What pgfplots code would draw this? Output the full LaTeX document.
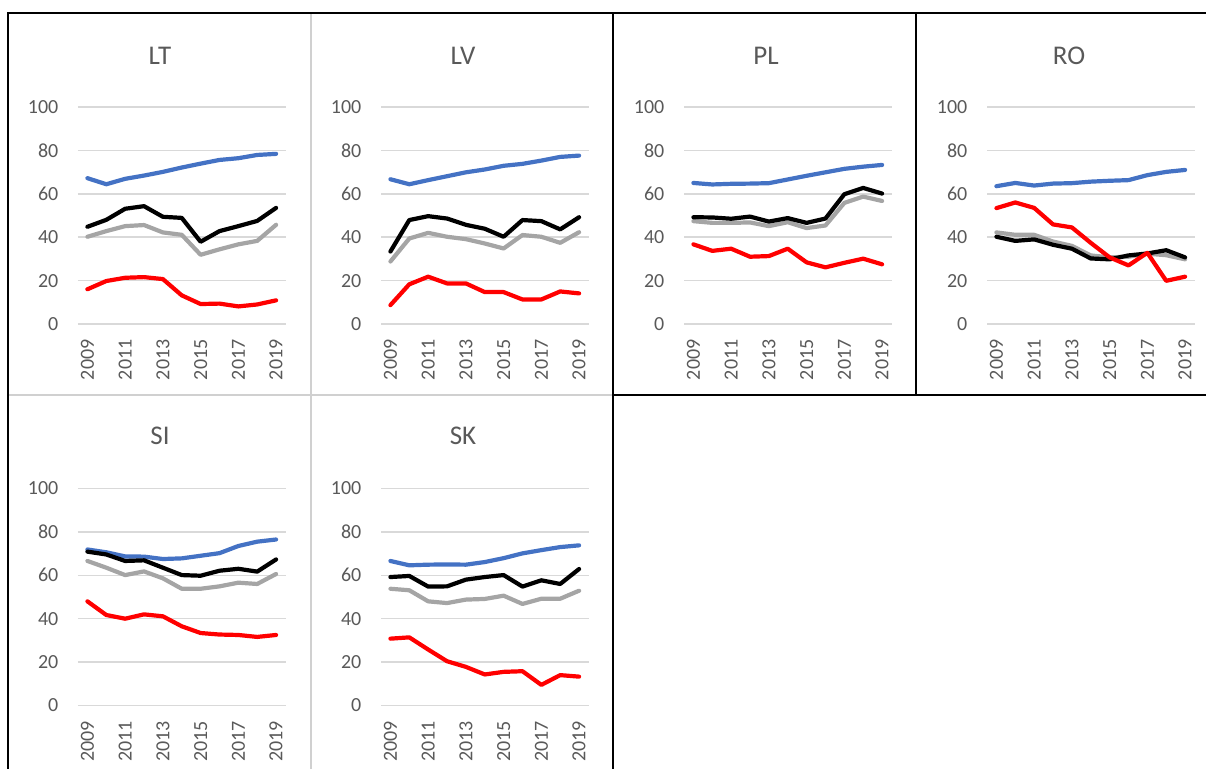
\documentclass[border=0pt]{standalone}
\usepackage{fontspec}
\setmainfont{Carlito}
\usepackage{pgfplots}
\usepackage{pgfplotstable}
\pgfplotsset{compat=1.18}

\definecolor{labelgray}{HTML}{595959}
\definecolor{gridgray}{HTML}{D9D9D9}
\definecolor{cellgray}{HTML}{D0D0D0}
\definecolor{sblue}{HTML}{4472C4}
\definecolor{sgray}{HTML}{A5A5A5}
\definecolor{sred}{HTML}{FF0000}

% year, series A (blue), B (grey), C (black), D (red)
\pgfplotstableread{
year A    B    C    D
2009 67.2 40.2 44.8 16.0
2010 64.4 42.8 48.0 19.8
2011 66.9 45.1 53.1 21.3
2012 68.4 45.6 54.3 21.6
2013 70.1 42.2 49.4 20.7
2014 72.1 41.1 48.9 13.2
2015 73.9 31.9 37.9 9.2
2016 75.6 34.4 42.8 9.4
2017 76.4 36.7 45.1 8.1
2018 77.9 38.3 47.5 9.0
2019 78.4 45.7 53.5 10.9
}\dataLT
\pgfplotstableread{
year A    B    C    D
2009 66.7 28.8 33.4 8.7
2010 64.4 39.4 47.9 18.3
2011 66.3 42.0 49.7 21.8
2012 68.1 40.2 48.6 18.7
2013 69.9 39.1 45.7 18.7
2014 71.2 37.1 43.9 14.7
2015 72.9 34.8 40.2 14.7
2016 73.8 41.0 47.9 11.3
2017 75.3 40.2 47.4 11.3
2018 77.0 37.4 43.6 15.0
2019 77.6 42.3 49.2 14.1
}\dataLV
\pgfplotstableread{
year A    B    C    D
2009 65.0 47.4 49.2 36.7
2010 64.3 46.6 49.1 33.7
2011 64.6 46.6 48.5 34.7
2012 64.7 46.8 49.5 31.0
2013 64.9 45.1 47.2 31.3
2014 66.6 46.9 48.8 34.7
2015 68.3 44.2 46.6 28.4
2016 69.9 45.4 48.6 26.1
2017 71.5 55.8 59.8 28.2
2018 72.5 58.7 62.7 30.1
2019 73.3 56.7 60.1 27.5
}\dataPL
\pgfplotstableread{
year A    B    C    D
2009 63.5 42.2 40.2 53.4
2010 65.0 41.1 38.3 56.0
2011 63.8 41.1 39.0 53.5
2012 64.7 38.0 36.5 45.9
2013 64.9 36.0 34.7 44.5
2014 65.6 31.6 30.2 37.4
2015 66.0 30.7 29.8 30.7
2016 66.3 31.0 31.6 27.0
2017 68.6 32.4 32.5 32.8
2018 70.1 31.7 34.0 19.9
2019 71.0 29.8 30.7 21.8
}\dataRO
\pgfplotstableread{
year A    B    C    D
2009 71.9 66.6 70.9 48.0
2010 70.6 63.5 69.6 41.7
2011 68.7 60.1 66.6 40.0
2012 68.6 61.8 66.9 42.0
2013 67.5 58.6 63.5 41.1
2014 67.8 53.8 60.1 36.5
2015 69.0 53.8 59.8 33.4
2016 70.2 54.9 62.1 32.7
2017 73.5 56.6 63.0 32.5
2018 75.5 56.0 61.7 31.6
2019 76.5 60.6 67.3 32.5
}\dataSI
\pgfplotstableread{
year A    B    C    D
2009 66.6 53.8 59.2 30.8
2010 64.6 53.1 59.7 31.4
2011 64.9 48.0 54.8 25.8
2012 65.0 47.2 54.9 20.4
2013 64.9 48.8 58.0 17.8
2014 66.1 49.1 59.2 14.3
2015 67.9 50.6 60.1 15.5
2016 70.1 46.8 54.8 15.8
2017 71.6 49.2 57.7 9.5
2018 73.0 49.2 56.0 14.0
2019 73.8 52.9 62.9 13.3
}\dataSK

\pgfplotsset{
  panel/.style={
    anchor=south west, scale only axis,
    width=103.75pt, height=108.5pt,
    xmin=2008.5, xmax=2019.5, ymin=0, ymax=100,
    xtick={2009,2011,2013,2015,2017,2019},
    xticklabels={2009,2011,2013,2015,2017,2019},
    ytick={0,20,40,60,80,100},
    ymajorgrids, grid style={draw=gridgray, line width=0.75pt},
    axis line style={draw=none}, major tick length=0pt,
    tick label style={font=\fontsize{10}{12}\selectfont, text=labelgray},
    xticklabel style={rotate=90, anchor=east},
    xticklabel shift=4.2pt, yticklabel shift=6.3pt,
    /pgf/number format/assume math mode=true,
    clip=false,
  },
  ser/.style={line width=2.1pt, line cap=round, line join=round, mark=none},
}

\begin{document}
\begin{tikzpicture}
\useasboundingbox (0,0) rectangle (603pt,-384.5pt);
% table rules
\draw[cellgray, line width=0.6pt] (155.5pt,-6.5pt) -- (155.5pt,-384.5pt);
\draw[cellgray, line width=0.6pt] (4pt,-197.5pt) -- (306.5pt,-197.5pt);
\draw[black, line width=0.6pt] (4pt,-384.5pt) -- (4pt,-6.5pt) -- (603pt,-6.5pt);
\draw[black, line width=0.6pt] (306.5pt,-6.5pt) -- (306.5pt,-384.5pt);
\draw[black, line width=0.6pt] (458pt,-6.5pt) -- (458pt,-197.5pt);
\draw[black, line width=0.6pt] (306.5pt,-197.5pt) -- (603pt,-197.5pt);

\begin{axis}[panel, at={(39pt,-162pt)}]
  \addplot[ser, sblue] table[x=year, y=A] {\dataLT};
  \addplot[ser, sgray] table[x=year, y=B] {\dataLT};
  \addplot[ser, black] table[x=year, y=C] {\dataLT};
  \addplot[ser, sred]  table[x=year, y=D] {\dataLT};
\end{axis}
\begin{axis}[panel, at={(190.5pt,-162pt)}]
  \addplot[ser, sblue] table[x=year, y=A] {\dataLV};
  \addplot[ser, sgray] table[x=year, y=B] {\dataLV};
  \addplot[ser, black] table[x=year, y=C] {\dataLV};
  \addplot[ser, sred]  table[x=year, y=D] {\dataLV};
\end{axis}
\begin{axis}[panel, at={(342pt,-162pt)}]
  \addplot[ser, sblue] table[x=year, y=A] {\dataPL};
  \addplot[ser, sgray] table[x=year, y=B] {\dataPL};
  \addplot[ser, black] table[x=year, y=C] {\dataPL};
  \addplot[ser, sred]  table[x=year, y=D] {\dataPL};
\end{axis}
\begin{axis}[panel, at={(493.5pt,-162pt)}]
  \addplot[ser, sblue] table[x=year, y=A] {\dataRO};
  \addplot[ser, sgray] table[x=year, y=B] {\dataRO};
  \addplot[ser, black] table[x=year, y=C] {\dataRO};
  \addplot[ser, sred]  table[x=year, y=D] {\dataRO};
\end{axis}
\begin{axis}[panel, at={(39pt,-352.75pt)}]
  \addplot[ser, sblue] table[x=year, y=A] {\dataSI};
  \addplot[ser, sgray] table[x=year, y=B] {\dataSI};
  \addplot[ser, black] table[x=year, y=C] {\dataSI};
  \addplot[ser, sred]  table[x=year, y=D] {\dataSI};
\end{axis}
\begin{axis}[panel, at={(190.5pt,-352.75pt)}]
  \addplot[ser, sblue] table[x=year, y=A] {\dataSK};
  \addplot[ser, sgray] table[x=year, y=B] {\dataSK};
  \addplot[ser, black] table[x=year, y=C] {\dataSK};
  \addplot[ser, sred]  table[x=year, y=D] {\dataSK};
\end{axis}

% titles
\begin{scope}[every node/.style={anchor=base, text=labelgray, font=\fontsize{13.5}{16}\selectfont}]
\node at (80pt,-32.5pt) {LT};
\node at (231.5pt,-32.5pt) {LV};
\node at (383pt,-32.5pt) {PL};
\node at (534.5pt,-32.5pt) {RO};
\node at (80pt,-222.5pt) {SI};
\node at (231.5pt,-222.5pt) {SK};
\end{scope}
\end{tikzpicture}
\end{document}
